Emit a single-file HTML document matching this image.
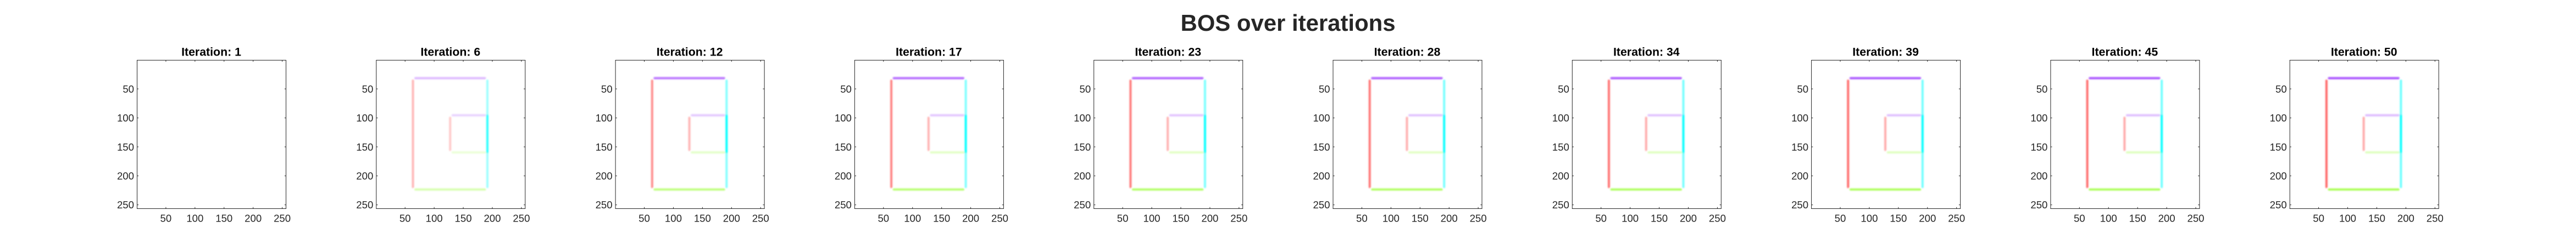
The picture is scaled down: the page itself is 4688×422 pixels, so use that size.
<!DOCTYPE html>
<html lang="en">
<head>
<meta charset="utf-8">
<title>BOS over iterations</title>
<style>
html,body{margin:0;padding:0;background:#fff;width:4688px;height:422px;overflow:hidden}
svg{display:block;font-family:"Liberation Sans",Arial,sans-serif}
</style>
</head>
<body>
<svg id="chart" xmlns="http://www.w3.org/2000/svg" width="4688" height="422" viewBox="0 0 4688 422">
<defs><filter id="soft" filterUnits="userSpaceOnUse" x="0" y="0" width="4688" height="422"><feGaussianBlur stdDeviation="1.2"/></filter></defs>
<rect width="4688" height="422" fill="#fff"/>
<text x="2344" y="56" text-anchor="middle" font-size="41.9" font-weight="bold" fill="#262626">BOS over iterations</text>
</svg>
<script>
const iterations = [1, 6, 12, 17, 23, 28, 34, 39, 45, 50];
const xTicks = [50, 100, 150, 200, 250];
const yTicks = [50, 100, 150, 200, 250];
const outerRed = [0, 0.30, 0.47, 0.51, 0.54, 0.56, 0.58, 0.60, 0.60, 0.62];
const outerPurple = [0, 0.28, 0.56, 0.60, 0.63, 0.65, 0.67, 0.68, 0.69, 0.70];
const outerCyan = [0, 0.40, 0.50, 0.52, 0.54, 0.56, 0.57, 0.58, 0.59, 0.60];
const outerGreen = [0, 0.32, 0.52, 0.56, 0.60, 0.62, 0.64, 0.65, 0.66, 0.68];
const innerRed = [0, 0.22, 0.30, 0.31, 0.32, 0.33, 0.34, 0.34, 0.35, 0.35];
const innerPurple = [0, 0.18, 0.22, 0.23, 0.24, 0.25, 0.25, 0.26, 0.26, 0.27];
const innerCyan = [0, 0.75, 1, 1, 1, 1, 1, 1, 1, 1];
const innerGreen = [0, 0.16, 0.22, 0.23, 0.24, 0.24, 0.25, 0.25, 0.26, 0.26];
const outerBounds = [63.5, 191.5, 31.5, 223.5];
const innerBounds = [127.5, 191.5, 95.5, 159.5];

const NS = 'http://www.w3.org/2000/svg';
const svg = document.getElementById('chart');
const dataMin = 0.5, dataMax = 256.5;
const firstLeft = 249.5, panelStep = 435.3, plotW = 271, plotTop = 109.5, plotH = 270;
const ink = '#262626';

function make(tag, attrs, parent, text) {
  const el = document.createElementNS(NS, tag);
  for (const k in attrs) el.setAttribute(k, attrs[k]);
  if (text !== undefined) el.textContent = text;
  parent.appendChild(el);
  return el;
}

function drawEdge(group, x1, y1, x2, y2, colour, alpha, width, name) {
  const edge = make('line', {x1: x1, y1: y1, x2: x2, y2: y2, stroke: colour, 'stroke-opacity': alpha, 'stroke-width': width, 'stroke-linecap': 'round'}, group);
  
  
}

iterations.forEach(function (iteration, i) {
  const left = firstLeft + panelStep * i;
  const xScale = function (v) { return left + (v - dataMin) / (dataMax - dataMin) * plotW; };
  const yScale = function (v) { return plotTop + (v - dataMin) / (dataMax - dataMin) * plotH; };

  const panel = make('g', {}, svg);
  
  

  const title = make('text', {x: left + plotW / 2 - 0.5, y: 101.5, 'text-anchor': 'middle', 'font-size': 21.3, 'font-weight': 'bold', fill: '#000'}, panel, 'Iteration: ' + iteration);
  
  

  const field = make('g', {filter: 'url(#soft)'}, panel);
  
  

  const oL = xScale(outerBounds[0]), oR = xScale(outerBounds[1]), oT = yScale(outerBounds[2]), oB = yScale(outerBounds[3]);
  const nL = xScale(innerBounds[0]), nR = xScale(innerBounds[1]), nT = yScale(innerBounds[2]), nB = yScale(innerBounds[3]);
  const inset = 4.5, w = 3.8;

  drawEdge(field, oL, oT + inset, oL, oB - inset, '#ff0000', outerRed[i], w, 'outer-left-edge');
  drawEdge(field, oL + inset, oT, oR - inset, oT, '#8000ff', outerPurple[i], w, 'outer-top-edge');
  drawEdge(field, oR, oT + inset, oR, oB - inset, '#00ffff', outerCyan[i], w, 'outer-right-edge');
  drawEdge(field, oL + inset, oB, oR - inset, oB, '#80ff00', outerGreen[i], w, 'outer-bottom-edge');
  drawEdge(field, nL, nT + inset, nL, nB - inset, '#ff0000', innerRed[i], w, 'inner-left-edge');
  drawEdge(field, nL + inset, nT, nR - 3, nT, '#8000ff', innerPurple[i], w, 'inner-top-edge');
  drawEdge(field, nR, nT + 1, nR, nB - 1, '#00ffff', innerCyan[i], w, 'inner-right-edge');
  drawEdge(field, nL + inset, nB, nR - 3, nB, '#80ff00', innerGreen[i], w, 'inner-bottom-edge');

  const box = make('rect', {x: left, y: plotTop, width: plotW, height: plotH, fill: 'none', stroke: ink, 'stroke-width': 1}, panel);
  
  

  xTicks.forEach(function (t) {
    const x = xScale(t);
    const tick = make('path', {d: 'M' + x + ' ' + plotTop + 'v2.7M' + x + ' ' + (plotTop + plotH) + 'v-2.7', stroke: ink, 'stroke-width': 1, fill: 'none'}, panel);
    
    
    const label = make('text', {x: x, y: 403.5, 'text-anchor': 'middle', 'font-size': 18.6, fill: ink}, panel, t);
    
    
  });

  yTicks.forEach(function (t) {
    const y = yScale(t);
    const tick = make('path', {d: 'M' + left + ' ' + y + 'h2.7M' + (left + plotW) + ' ' + y + 'h-2.7', stroke: ink, 'stroke-width': 1, fill: 'none'}, panel);
    
    
    const label = make('text', {x: left - 5.5, y: y + 6.6, 'text-anchor': 'end', 'font-size': 18.6, fill: ink}, panel, t);
    
    
  });
});
</script>
</body>
</html>
